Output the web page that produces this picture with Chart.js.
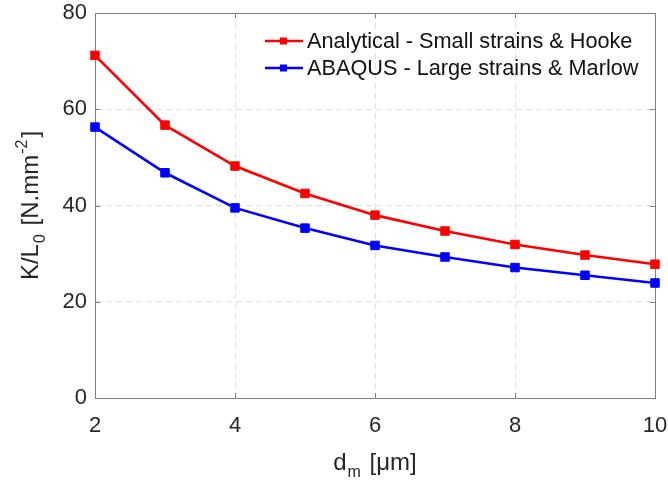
<!DOCTYPE html>
<html lang="en">
<head>
  <meta charset="UTF-8">
  <title>K/L0 vs dm</title>
  <style>
    html, body { margin: 0; padding: 0; background: #fff; }
    #wrap { width: 668px; height: 480px; }
  </style>
</head>
<body>
  <div id="wrap"><canvas id="chart" width="668" height="480"></canvas></div>

  <script src="https://cdn.jsdelivr.net/npm/chart.js"></script>
  <script>
    // data
    const dm = [2, 3, 4, 5, 6, 7, 8, 9, 10];
    const analytical = [71.2, 56.7, 48.2, 42.5, 38.0, 34.7, 31.9, 29.7, 27.8];
    const abaqus = [56.3, 46.8, 39.5, 35.3, 31.7, 29.3, 27.1, 25.5, 23.9];
    const seriesNames = ['Analytical - Small strains & Hooke', 'ABAQUS - Large strains & Marlow'];
    const xTicks = [2, 4, 6, 8, 10];
    const yTicks = [0, 20, 40, 60, 80];

    const FONT = '"Liberation Sans", Arial, Helvetica, sans-serif';
    const TEXT = '#262626';
    const AXIS = '#7f7f7f';

    function toPoints(ys) {
      return dm.map((x, i) => ({ x: x, y: ys[i] }));
    }

    function makeSet(label, ys, color) {
      return {
        label: label,
        data: toPoints(ys),
        borderColor: color,
        backgroundColor: color,
        borderWidth: 2.6,
        pointStyle: 'rect',
        pointRadius: 6,
        pointBorderWidth: 1,
        pointBackgroundColor: color,
        pointBorderColor: color,
        tension: 0,
        clip: false
      };
    }

    // draws text pieces with sub/superscripts, centered on 0
    function drawRich(ctx, parts, size) {
      const small = Math.round(size * 0.68);
      let total = 0;
      parts.forEach(p => {
        ctx.font = (p.s ? small : size) + 'px ' + FONT;
        p.w = ctx.measureText(p.t).width + (p.s ? 3 : 0);
        total += p.w;
      });
      let x = -total / 2;
      parts.forEach(p => {
        ctx.font = (p.s ? small : size) + 'px ' + FONT;
        let dy = 0;
        if (p.s === 'sub') dy = size * 0.3;
        if (p.s === 'sup') dy = -size * 0.45;
        ctx.fillText(p.t, x + (p.s ? 1 : 0), dy);
        x += p.w;
      });
    }

    const decor = {
      id: 'decor',
      beforeDatasetsDraw(chart) {
        const { ctx, chartArea: a, scales } = chart;
        ctx.save();
        ctx.strokeStyle = AXIS;
        ctx.lineWidth = 1;
        ctx.beginPath();
        ctx.moveTo(a.left, a.top + 0.5);
        ctx.lineTo(a.right + 0.5, a.top + 0.5);
        ctx.lineTo(a.right + 0.5, a.bottom);
        // inward ticks
        xTicks.forEach(v => {
          const px = Math.round(scales.x.getPixelForValue(v)) + 0.5;
          ctx.moveTo(px, a.bottom); ctx.lineTo(px, a.bottom - 5);
          ctx.moveTo(px, a.top); ctx.lineTo(px, a.top + 5);
        });
        yTicks.forEach(v => {
          const py = Math.round(scales.y.getPixelForValue(v)) + 0.5;
          ctx.moveTo(a.left, py); ctx.lineTo(a.left + 5, py);
          ctx.moveTo(a.right, py); ctx.lineTo(a.right - 5, py);
        });
        ctx.stroke();
        ctx.restore();
      },
      afterDraw(chart) {
        const { ctx, chartArea: a } = chart;
        ctx.save();
        ctx.fillStyle = TEXT;
        ctx.textBaseline = 'alphabetic';
        ctx.textAlign = 'left';

        // y title
        ctx.save();
        ctx.translate(38, (a.top + a.bottom) / 2);
        ctx.rotate(-Math.PI / 2);
        drawRich(ctx, [
          { t: 'K/L' }, { t: '0', s: 'sub' }, { t: ' [N.mm' }, { t: '-2', s: 'sup' }, { t: ']' }
        ], 24);
        ctx.restore();

        // x title
        ctx.save();
        ctx.translate((a.left + a.right) / 2, 470);
        drawRich(ctx, [{ t: 'd' }, { t: 'm', s: 'sub' }, { t: ' [\u03bcm]' }], 24);
        ctx.restore();

        // legend
        const rows = [41, 68];
        chart.data.datasets.forEach((ds, i) => {
          const y = rows[i];
          ctx.strokeStyle = ds.borderColor;
          ctx.lineWidth = 2.6;
          ctx.beginPath();
          ctx.moveTo(265, y);
          ctx.lineTo(303, y);
          ctx.stroke();
          ctx.fillStyle = ds.borderColor;
          ctx.fillRect(280, y - 3.5, 7, 7);
          ctx.fillStyle = '#111';
          ctx.font = '21.7px ' + FONT;
          ctx.textBaseline = 'middle';
          ctx.fillText(ds.label, 307, y + 1);
        });
        ctx.restore();
      }
    };

    new Chart(document.getElementById('chart'), {
      type: 'line',
      data: {
        datasets: [
          makeSet(seriesNames[0], analytical, '#ff0000'),
          makeSet(seriesNames[1], abaqus, '#0000ff')
        ]
      },
      options: {
        responsive: false,
        animation: false,
        events: [],
        layout: { padding: { left: 0, top: 13, right: 13, bottom: 0 } },
        plugins: { legend: { display: false }, tooltip: { enabled: false } },
        scales: {
          x: {
            type: 'linear',
            min: 2,
            max: 10,
            afterBuildTicks: s => { s.ticks = xTicks.map(v => ({ value: v })); },
            afterFit: s => { s.height = 82; s.paddingLeft = 0; s.paddingRight = 0; },
            ticks: { color: TEXT, font: { family: FONT, size: 22 }, padding: 15, maxRotation: 0 },
            grid: { color: '#dedede', lineWidth: 1, drawTicks: false },
            border: { color: AXIS, width: 1, dash: [6, 4] }
          },
          y: {
            min: 0,
            max: 80,
            afterBuildTicks: s => { s.ticks = yTicks.map(v => ({ value: v })); },
            afterFit: s => { s.width = 95; s.paddingTop = 0; s.paddingBottom = 0; },
            ticks: { color: TEXT, font: { family: FONT, size: 22 }, padding: 8 },
            grid: { color: '#dedede', lineWidth: 1, drawTicks: false },
            border: { color: AXIS, width: 1, dash: [6, 4] }
          }
        }
      },
      plugins: [decor]
    });
  </script>
</body>
</html>
